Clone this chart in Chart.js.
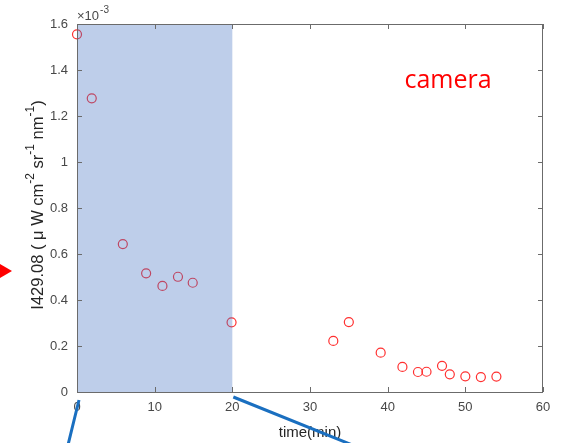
<!DOCTYPE html>
<html>
<head>
<meta charset="utf-8">
<script src="https://cdn.jsdelivr.net/npm/chart.js@4"></script>
<style>
  html, body { margin: 0; padding: 0; background: #fff; }
  #wrap { width: 561px; height: 443px; position: relative; }
</style>
</head>
<body>
<div id="wrap"><canvas id="chart"></canvas></div>
<script>
// time (min)
const timeMin = [0, 1.9, 5.9, 8.9, 11, 13, 14.9, 19.9, 33, 35, 39.1, 41.9, 43.9, 45, 47, 48, 50, 52, 54];
// I429.08, in units of 1e-3
const intensity = [1.555, 1.277, 0.643, 0.516, 0.461, 0.501, 0.475, 0.303, 0.222, 0.304, 0.171, 0.109, 0.087, 0.088, 0.114, 0.077, 0.068, 0.065, 0.067];

// shaded window
const shadeRange = [0, 20];
const xTicks = [0, 10, 20, 30, 40, 50, 60];
const yTicks = [0, 0.2, 0.4, 0.6, 0.8, 1, 1.2, 1.4, 1.6];

const FONT = "'Liberation Sans', Arial, sans-serif";
const AXIS_COL = "#6b6b6b";
const TEXT_COL = "#484848";

const points = timeMin.map((t, i) => ({ x: t, y: intensity[i] }));

// shaded band + frame + inward ticks
const framePlugin = {
	id: "frame",
	afterDatasetsDraw(chart) {
		const { ctx, chartArea: a, scales } = chart;
		const x0 = scales.x.getPixelForValue(shadeRange[0]);
		const x1 = scales.x.getPixelForValue(shadeRange[1]);
		ctx.save();
		ctx.fillStyle = "rgba(68,114,196,0.35)";
		ctx.fillRect(x0, a.top, x1 - x0, a.bottom - a.top);

		ctx.strokeStyle = AXIS_COL;
		ctx.lineWidth = 1;
		ctx.strokeRect(a.left + 0.5, a.top + 0.5, a.right - a.left - 1, a.bottom - a.top);
		ctx.beginPath();
		xTicks.forEach((v) => {
			const px = Math.round(scales.x.getPixelForValue(v)) + 0.5;
			ctx.moveTo(px, a.bottom);
			ctx.lineTo(px, a.bottom - 5);
			ctx.moveTo(px, a.top);
			ctx.lineTo(px, a.top + 5);
		});
		yTicks.forEach((v) => {
			const py = Math.round(scales.y.getPixelForValue(v)) + 0.5;
			ctx.moveTo(a.left, py);
			ctx.lineTo(a.left + 5, py);
			ctx.moveTo(a.right, py);
			ctx.lineTo(a.right - 5, py);
		});
		ctx.stroke();
		ctx.restore();
	},
	afterDraw(chart) {
		const { ctx, chartArea: a, scales } = chart;
		ctx.save();

		// exponent label
		ctx.fillStyle = TEXT_COL;
		ctx.textBaseline = "alphabetic";
		ctx.textAlign = "left";
		ctx.font = "13px " + FONT;
		ctx.fillText("\u00d710", a.left, 20);
		const w10 = ctx.measureText("\u00d710").width;
		ctx.font = "10px " + FONT;
		ctx.fillText("-3", a.left + w10 + 1, 13);

		// y title with superscripts
		const parts = [
			["I429.08 ( \u03bc W cm", false],
			["-2", true],
			[" sr", false],
			["-1", true],
			[" nm", false],
			["-1", true],
			[")", false],
		];
		const fNorm = "16.5px " + FONT;
		const fSup = "12px " + FONT;
		let total = 0;
		parts.forEach(([t, s]) => {
			ctx.font = s ? fSup : fNorm;
			total += ctx.measureText(t).width;
		});
		ctx.translate(43, 205);
		ctx.rotate(-Math.PI / 2);
		ctx.fillStyle = "#262626";
		let cx = -total / 2;
		parts.forEach(([t, s]) => {
			ctx.font = s ? fSup : fNorm;
			ctx.fillText(t, cx, s ? -9 : 0);
			cx += ctx.measureText(t).width;
		});
		ctx.setTransform(1, 0, 0, 1, 0, 0);

		// x title
		ctx.font = "15px " + FONT;
		ctx.textAlign = "center";
		ctx.fillStyle = "#262626";
		ctx.fillText("time(min)", (a.left + a.right) / 2, 437);

		// annotation
		ctx.font = "25px 'Open Sans', " + FONT;
		ctx.fillStyle = "#ff0000";
		ctx.fillText("camera", 448, 88);

		// slide decorations: red arrow head and blue zoom lines
		ctx.fillStyle = "#ff0000";
		ctx.beginPath();
		ctx.moveTo(0, 264);
		ctx.lineTo(12, 271);
		ctx.lineTo(0, 278);
		ctx.closePath();
		ctx.fill();

		ctx.strokeStyle = "#1a6fc0";
		ctx.lineWidth = 3;
		const bx0 = scales.x.getPixelForValue(shadeRange[0]);
		const bx1 = scales.x.getPixelForValue(shadeRange[1]);
		ctx.beginPath();
		ctx.moveTo(bx0 + 2, a.bottom + 8);
		ctx.lineTo(bx0 - 9, 445);
		ctx.moveTo(bx1 + 1, a.bottom + 5);
		ctx.lineTo(bx1 + 120, 445);
		ctx.stroke();
		ctx.restore();
	},
};

new Chart(document.getElementById("chart"), {
	type: "scatter",
	data: {
		datasets: [
			{
				data: points,
				pointStyle: "circle",
				pointRadius: 4.5,
				pointBorderWidth: 1.2,
				pointBackgroundColor: "rgba(0,0,0,0)",
				pointBorderColor: "#ff3030",
				clip: false,
			},
		],
	},
	options: {
		responsive: true,
		maintainAspectRatio: false,
		animation: false,
		layout: { padding: { top: 24, right: 18, left: 0, bottom: 0 } },
		plugins: {
			legend: { display: false },
			tooltip: { enabled: false },
		},
		scales: {
			x: {
				type: "linear",
				min: 0,
				max: 60,
				grid: { display: false, drawTicks: false },
				border: { display: false },
				afterBuildTicks: (s) => { s.ticks = xTicks.map((v) => ({ value: v })); },
				afterFit: (s) => { s.height = 51; },
				ticks: {
					padding: 8,
					color: TEXT_COL,
					font: { family: FONT, size: 13 },
					maxRotation: 0,
					callback: (v) => String(v),
				},
			},
			y: {
				type: "linear",
				min: 0,
				max: 1.6,
				grid: { display: false, drawTicks: false },
				border: { display: false },
				afterBuildTicks: (s) => { s.ticks = yTicks.map((v) => ({ value: v })); },
				afterFit: (s) => { s.width = 77; },
				ticks: {
					padding: 9,
					color: TEXT_COL,
					font: { family: FONT, size: 13 },
					callback: (v) => String(+v.toFixed(1)),
				},
			},
		},
	},
	plugins: [framePlugin],
});
</script>
</body>
</html>
